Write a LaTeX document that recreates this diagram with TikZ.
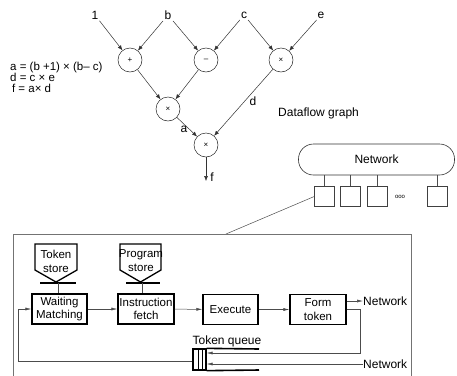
\documentclass[tikz,border=0pt]{standalone}
\usepackage{fontspec}
\setmainfont{Liberation Sans}
\usetikzlibrary{arrows.meta}
\begin{document}
\begin{tikzpicture}[x=1pt,y=-1pt,
  every node/.style={font=\fontsize{12}{13}\selectfont},
  op/.style={circle,draw=black!85,line width=0.5pt,minimum size=24pt,inner sep=0pt,font=\fontsize{8}{9}\selectfont},
  lbl/.style={inner sep=1.5pt},
  arr/.style={-{Latex[length=5pt,width=4pt]},draw=black!80,line width=0.5pt},
  ln/.style={draw=black!70,line width=0.5pt},
  barr/.style={-{Latex[length=6pt,width=3pt]},draw=black!70,line width=0.5pt},
  unit/.style={draw,line width=1.3pt,minimum width=55pt,minimum height=30pt,inner sep=0pt,align=center,font=\fontsize{11.5}{13.5}\selectfont},
  pe/.style={draw=black!75,line width=0.6pt,minimum size=20pt,inner sep=0pt},
  ]
\useasboundingbox (0,0) rectangle (457,375);

% ---------- dataflow graph ----------
\node[lbl] (l1) at (95,15) {1};
\node[lbl] (lb) at (168,15) {b};
\node[lbl] (lc) at (244,15) {c};
\node[lbl] (le) at (321,15) {e};
\node[op] (plus) at (130,60) {+};
\node[op] (minus) at (206,60) {--};
\node[op] (mce) at (281,60) {×};
\node[op] (mab) at (168,109) {×};
\node[op] (mf) at (206,145) {×};
\coordinate (fend) at (206,181);

\draw[arr] (l1) -- (plus);
\draw[arr] (lb) -- (plus);
\draw[arr] (lb) -- (minus);
\draw[arr] (lc) -- (minus);
\draw[arr] (lc) -- (mce);
\draw[arr] (le) -- (mce);
\draw[arr] (plus) -- (mab);
\draw[arr] (minus) -- (mab);
\draw[arr] (mab) -- (mf);
\draw[arr] (mce) -- (mf);
\draw[arr] (mf) -- (fend);

\node[lbl] (la) at (184,129) {a};
\node[lbl] (ld) at (253,101) {d};
\node[lbl] (lf) at (212,177) {f};

\node[anchor=west,align=left,inner sep=0pt,font=\fontsize{11.5}{10.5}\selectfont] (eqs) at (10,77)
  {a = (b +1) × (b-- c)\\d = c × e\\\,f = a× d};
\node[anchor=west,inner sep=0pt] (dfg) at (278,113) {Dataflow graph};

% ---------- network ----------
\node[draw=black!80,line width=0.6pt,rounded corners=15pt,minimum width=156pt,minimum height=31pt] (net) at (376.5,159.5) {Network};
\node[pe] (p1) at (324.5,196.5) {};
\node[pe] (p2) at (350.5,196.5) {};
\node[pe] (p3) at (377,196.5) {};
\node[pe] (p4) at (437,196.5) {};
\node[inner sep=0pt,font=\fontsize{6}{6}\selectfont] (dots) at (400,197) {ooo};
\foreach \p in {p1,p2,p3,p4} \draw[ln] (\p.north) -- (\p.north |- net.south);

% ---------- processing element ----------
\coordinate (ftop) at (226,234);
\draw[ln] (p1.west) -- (ftop);
\draw[draw=black!55,line width=0.6pt] (13,376) -- (13,234) -- (411,234) -- (411,376);

\draw[line width=1.3pt] (35,244) -- (77,244) -- (77,270) -- (56,282) -- (35,270) -- cycle;
\node[align=center,font=\fontsize{11.5}{14}\selectfont] (ts) at (56,261) {Token\\store};
\draw[line width=1.8pt] (40,283) -- (76,283);
\coordinate (tsb) at (58,283);

\draw[line width=1.3pt] (120,244) -- (161,244) -- (161,270) -- (140.5,282) -- (120,270) -- cycle;
\node[align=center,font=\fontsize{11.5}{14}\selectfont] (ps) at (141,261) {Program\\store};
\draw[line width=1.8pt] (126,283) -- (160,283);
\coordinate (psb) at (142,283);

\node[unit] (wm) at (59.5,309) {Waiting\\Matching};
\node[unit,minimum width=56pt] (inf) at (146,309) {Instruction\\fetch};
\node[unit] (ex) at (230.5,309.5) {Execute};
\node[unit,minimum width=56pt] (ft) at (318,309.5) {Form\\token};

\draw[ln] (tsb) -- (tsb |- wm.north);
\draw[ln] (psb) -- (psb |- inf.north);

\draw[barr] (wm) -- (inf);
\draw[barr] (inf) -- (ex);
\draw[barr] (ex) -- (ft);

\node[anchor=west,inner sep=0pt] (n1) at (363,301) {Network};
\draw[barr] (ft.east |- n1) -- (n1.west);
\node[anchor=west,inner sep=0pt] (n2) at (363,364) {Network};

% token queue
\node[draw,line width=1.3pt,minimum width=13pt,minimum height=21pt,inner sep=0pt] (q) at (199.5,359.5) {};
\draw[line width=1pt] (198.3,349) -- (198.3,370) (202.3,349) -- (202.3,370);
\draw[line width=1.6pt] (q.north east) -- (259,349);
\draw[line width=1.6pt] (q.south east) -- (259,370);
\node[anchor=base,inner sep=0pt] (tq) at (227,344) {Token queue};

\draw[barr] (ft.east) -- (360,309.5) -- (360,353) -- (q.east |- 0,353);
\draw[barr] (n2.west) -- (q.east |- n2.west);
\draw[barr] (q.west |- 0,361) -- (18,361) -- (18,309) -- (wm.west);
\end{tikzpicture}
\end{document}
